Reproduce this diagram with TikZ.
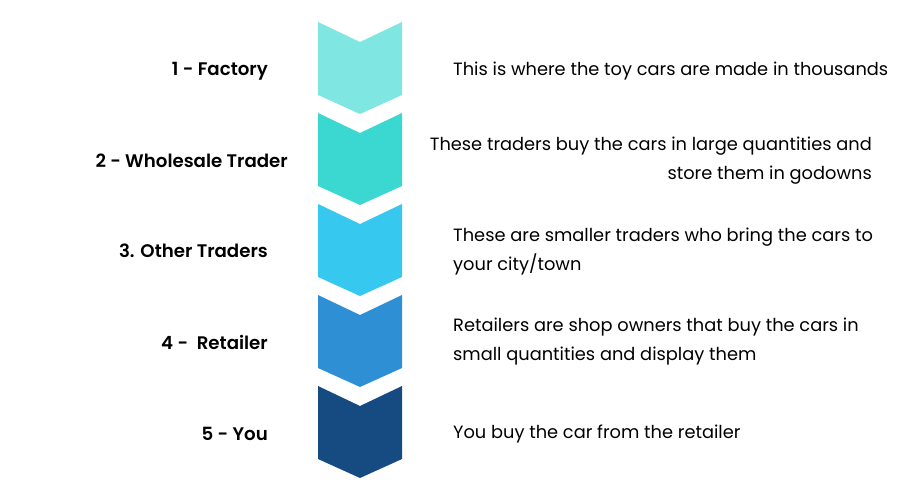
\documentclass[tikz,border=0pt]{standalone}
\usepackage{fontspec}
\setmainfont{Poppins}
\newfontfamily\lblfont{Poppins SemiBold}
\usepackage{tikz}
\usetikzlibrary{positioning}

\definecolor{stepa}{HTML}{7FE6E2}
\definecolor{stepb}{HTML}{3AD8D1}
\definecolor{stepc}{HTML}{37C8F0}
\definecolor{stepd}{HTML}{2E8FD4}
\definecolor{stepe}{HTML}{164B82}

\tikzset{
  lbl/.style={font=\lblfont\fontsize{18.2}{20}\selectfont, anchor=east, inner sep=0pt},
  txt/.style={font=\fontsize{17.8}{29}\selectfont, inner sep=0pt},
}

\begin{document}
\begin{tikzpicture}[x=1pt,y=-1pt]
      \useasboundingbox (0,0) rectangle (920,500);
      % chevrons
      \foreach \t/\c in {22/stepa,113/stepb,204/stepc,295/stepd,386/stepe}
        \fill [\c] (318,\t) -- (360,\t+20) -- (402,\t) -- (402,\t+73)
          -- (360,\t+92) -- (318,\t+73) -- cycle;
      % left labels
      \node [lbl] (factory) at (268,71) {1 - Factory};
      \node [lbl] (wholesale) at (288,161) {2 - Wholesale Trader};
      \node [lbl] (others) at (268,251) {3. Other Traders};
      \node [lbl] (retailer) at (268,342) {4 -\ \ Retailer};
      \node [lbl] (you) at (268,434) {5 - You};
      % descriptions
      \node [txt, anchor=west] (factorytxt) at (453,71)
        {This is where the toy cars are made in thousands};
      \node [txt, anchor=east, align=right] (wholesaletxt) at (872,161)
        {These traders buy the cars in large quantities and\\store them in godowns};
      \node [txt, anchor=west, align=left] (otherstxt) at (453,252)
        {These are smaller traders who bring the cars to\\your city/town};
      \node [txt, anchor=west, align=left] (retailertxt) at (453,342)
        {Retailers are shop owners that buy the cars in\\small quantities and display them};
      \node [txt, anchor=west] (youtxt) at (453,434)
        {You buy the car from the retailer};
    \end{tikzpicture}
\end{document}
